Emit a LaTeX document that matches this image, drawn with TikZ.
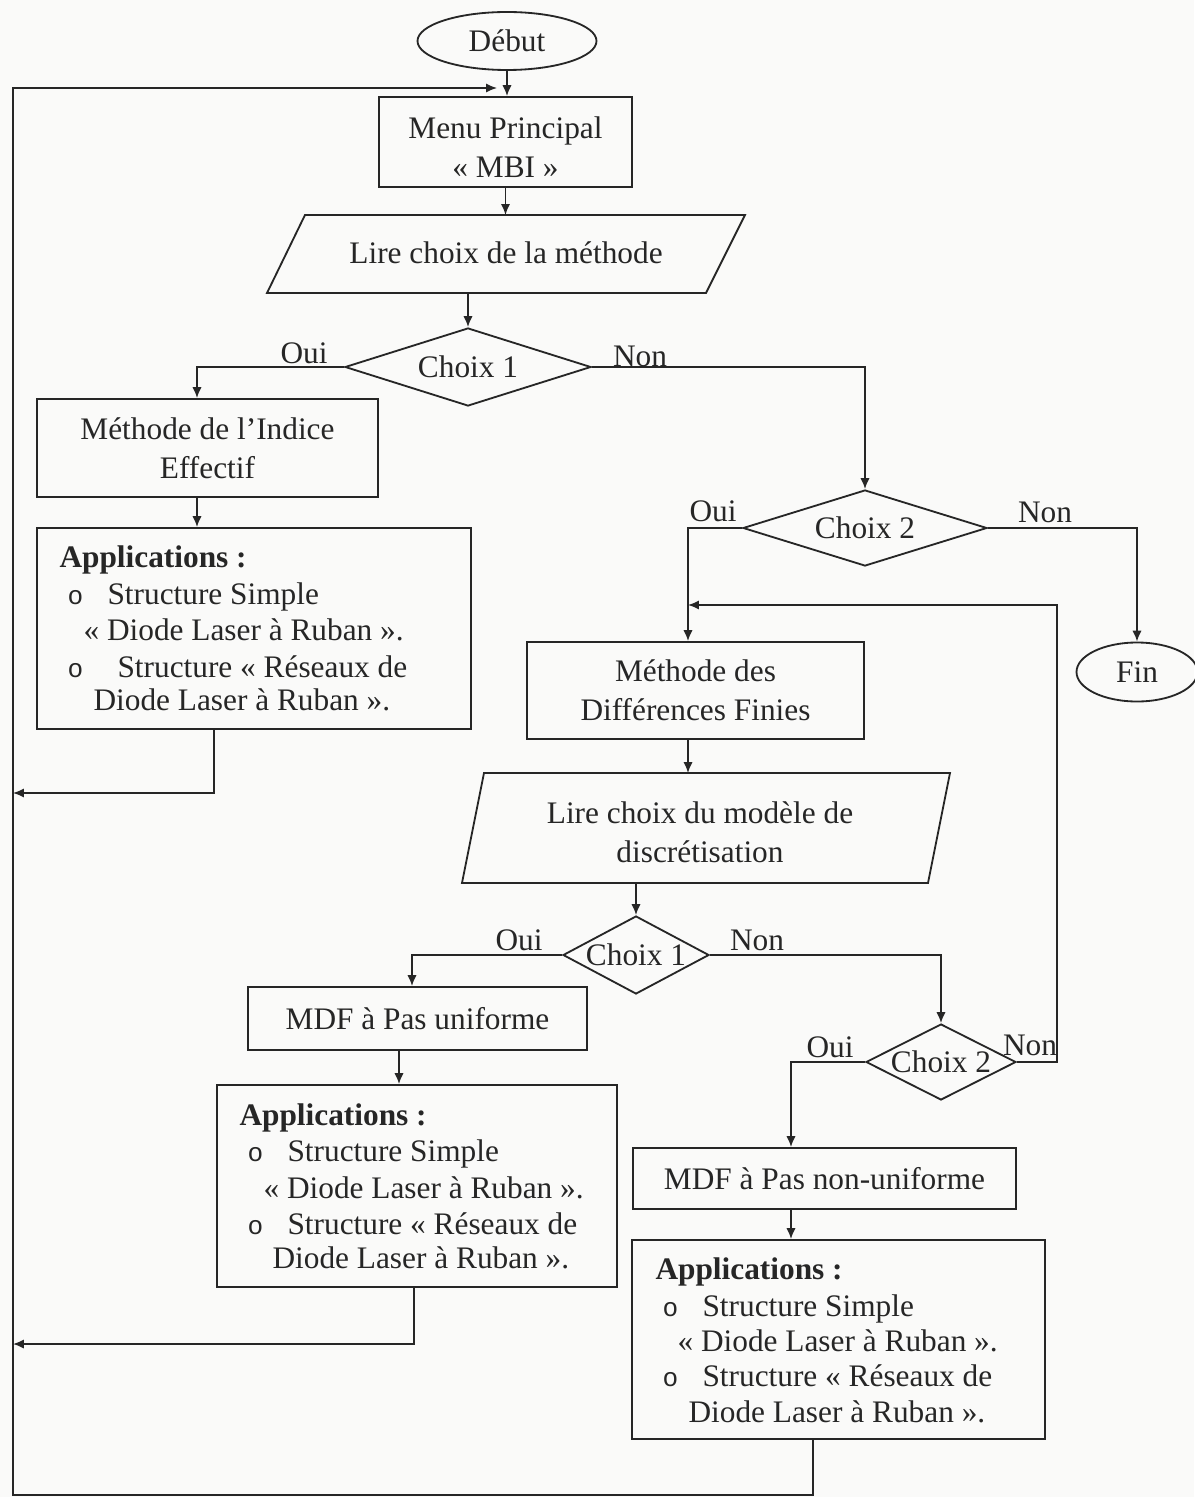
\documentclass[tikz,border=0pt]{standalone}
\usepackage{fontspec}
\setmainfont{Liberation Serif}
\newfontfamily\bulletfont{Liberation Mono}
\usetikzlibrary{arrows.meta,shapes.geometric}
\definecolor{ink}{HTML}{262626}
\definecolor{paper}{HTML}{FAFAF9}
\newcommand\pxu{0.383pt}
\begin{document}
\begin{tikzpicture}[x=0.383pt,y=-0.383pt,
  every node/.style={font=\fontsize{12}{14.8}\selectfont, text=ink},
  ln/.style={draw=ink, line width=0.7pt},
  arr/.style={ln, -{Latex[length=4.2pt,width=3.6pt]}},
  box/.style={ln, rectangle, inner sep=0pt, align=center},
  term/.style={ln, ellipse, inner sep=0pt},
  dec/.style={ln, diamond, inner sep=0pt},
  lbl/.style={inner sep=0pt},
  item/.style={inner sep=0pt, anchor=base west},
  bul/.style={inner sep=0pt, anchor=base west, font=\bulletfont\fontsize{10}{12}\selectfont},
]
% page
\fill[paper] (0,0) rectangle (1194,1497);
\useasboundingbox (0,0) rectangle (1194,1497);

% ---- main column ----
\node[term, minimum width=179*\pxu, minimum height=58*\pxu] (debut) at (507,41) {Début};
\node[box, minimum width=253*\pxu, minimum height=90*\pxu] (menu) at (505.5,142) {};
\node[align=center] (menut) at (505.5,147) {Menu Principal\\« MBI »};

\coordinate (p1tl) at (305,215);
\coordinate (p1tr) at (745,215);
\coordinate (p1br) at (706,293);
\coordinate (p1bl) at (267,293);
\draw[ln] (p1tl) -- (p1tr) -- (p1br) -- (p1bl) -- cycle;
\node (lire1) at (506,253) {Lire choix de la méthode};

\node[dec, minimum width=246*\pxu, minimum height=78*\pxu] (choixA) at (468,367) {};
\node (choixAt) at (choixA) {Choix 1};

\node[box, minimum width=341*\pxu, minimum height=98*\pxu] (indice) at (207.5,448) {Méthode de l’Indice\\Effectif};
\node[ln, rectangle, inner sep=0pt, minimum width=434*\pxu, minimum height=201*\pxu] (app1) at (254,628.5) {};

\node[dec, minimum width=244*\pxu, minimum height=76*\pxu] (choixB) at (865,528) {};
\node (choixBt) at (choixB) {Choix 2};
\node[term, minimum width=121*\pxu, minimum height=59*\pxu] (fin) at (1137,672) {Fin};

\node[box, minimum width=337*\pxu, minimum height=97*\pxu] (mdf) at (695.5,690.5) {Méthode des\\Différences Finies};

\coordinate (p2tl) at (484,773);
\coordinate (p2tr) at (950,773);
\coordinate (p2br) at (928,883);
\coordinate (p2bl) at (462,883);
\draw[ln] (p2tl) -- (p2tr) -- (p2br) -- (p2bl) -- cycle;
\node[align=center] (lire2) at (700,832) {Lire choix du modèle de\\discrétisation};

\node[dec, minimum width=146*\pxu, minimum height=78*\pxu] (choixC) at (636,955) {};
\node (choixCt) at (choixC) {Choix 1};

\node[box, minimum width=339*\pxu, minimum height=63*\pxu] (uni) at (417.5,1018.5) {MDF à Pas uniforme};
\node[ln, rectangle, inner sep=0pt, minimum width=400*\pxu, minimum height=202*\pxu] (app2) at (417,1186) {};

\node[dec, minimum width=150*\pxu, minimum height=76*\pxu] (choixD) at (941,1062) {};
\node (choixDt) at (choixD) {Choix 2};

\node[box, minimum width=383*\pxu, minimum height=61*\pxu] (nonuni) at (824.5,1178.5) {MDF à Pas non-uniforme};
\node[ln, rectangle, inner sep=0pt, minimum width=413*\pxu, minimum height=199*\pxu] (app3) at (838.5,1339.5) {};

% ---- texts of the application boxes ----
\node[item] (a1h) at (59,567) {\textbf{Applications :}};
\node[bul] (a1b1) at (67,604) {o};
\node[item] (a1l1) at (107,604) {Structure Simple};
\node[item] (a1l2) at (83,640) {« Diode Laser à Ruban ».};
\node[bul] (a1b2) at (67,677) {o};
\node[item] (a1l3) at (117,677) {Structure « Réseaux de};
\node[item] (a1l4) at (93,710) {Diode Laser à Ruban ».};

\node[item] (a2h) at (239,1125) {\textbf{Applications :}};
\node[bul] (a2b1) at (247,1161) {o};
\node[item] (a2l1) at (287,1161) {Structure Simple};
\node[item] (a2l2) at (263,1198) {« Diode Laser à Ruban ».};
\node[bul] (a2b2) at (247,1234) {o};
\node[item] (a2l3) at (287,1234) {Structure « Réseaux de};
\node[item] (a2l4) at (272,1268) {Diode Laser à Ruban ».};

\node[item] (a3h) at (655,1279) {\textbf{Applications :}};
\node[bul] (a3b1) at (662,1316) {o};
\node[item] (a3l1) at (702,1316) {Structure Simple};
\node[item] (a3l2) at (677,1351) {« Diode Laser à Ruban ».};
\node[bul] (a3b2) at (662,1386) {o};
\node[item] (a3l3) at (702,1386) {Structure « Réseaux de};
\node[item] (a3l4) at (688,1422) {Diode Laser à Ruban ».};

% ---- branch labels ----
\node[lbl] (ouiA) at (304,353) {Oui};
\node[lbl] (nonA) at (640,356) {Non};
\node[lbl] (ouiB) at (713,511) {Oui};
\node[lbl] (nonB) at (1045,512) {Non};
\node[lbl] (ouiC) at (519,940) {Oui};
\node[lbl] (nonC) at (757,940) {Non};
\node[lbl] (ouiD) at (830,1047) {Oui};
\node[lbl] (nonD) at (1030,1045) {Non};

% ---- routing points ----
\coordinate (p1out) at (468,293);
\coordinate (indX) at (197,0);
\coordinate (a1x) at (214,0);
\coordinate (mdfX) at (688,0);
\coordinate (p2out) at (636,883);
\coordinate (uniX) at (412,0);
\coordinate (uniOut) at (399,0);
\coordinate (a2x) at (414,0);
\coordinate (nuX) at (791,0);
\coordinate (a3x) at (813,0);
\coordinate (rx) at (1057,605);
\coordinate (r1) at (13,793);
\coordinate (r2) at (13,1344);
\coordinate (rb) at (13,1495);
\coordinate (rt) at (13,88);
\coordinate (mIn) at (497,88);

% ---- connectors ----
\draw[arr] (debut.south) -- (debut.south |- menu.north);
\draw[arr] (menu.south) -- (menu.south |- p1tl);
\draw[arr] (p1out) -- (choixA.north);
\draw[arr] (choixA.west) -| (indice.north -| indX);
\draw[arr] (choixA.east) -| (choixB.north);
\draw[arr] (indice.south -| indX) -- (app1.north -| indX);
\draw[arr] (app1.south -| a1x) |- (r1);
\draw[arr] (choixB.west) -| (mdf.north -| mdfX);
\draw[arr] (choixB.east) -| (fin.north);
\draw[arr] (mdf.south -| mdfX) -- (p2tl -| mdfX);
\draw[arr] (p2out) -- (choixC.north);
\draw[arr] (choixC.west) -| (uni.north -| uniX);
\draw[arr] (choixC.east) -| (choixD.north);
\draw[arr] (uni.south -| uniOut) -- (app2.north -| uniOut);
\draw[arr] (app2.south -| a2x) |- (r2);
\draw[arr] (choixD.west) -| (nonuni.north -| nuX);
\draw[arr] (nonuni.south -| nuX) -- (app3.north -| nuX);
\draw[arr] (choixD.east) -| (rx) -- (rx -| mdfX);
\draw[arr] (app3.south -| a3x) |- (rb) -- (rt) -- (mIn);
\end{tikzpicture}
\end{document}
